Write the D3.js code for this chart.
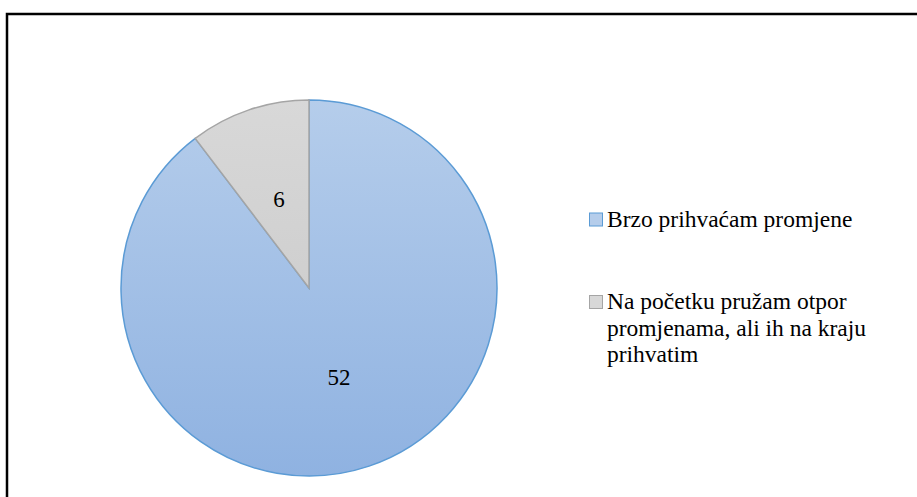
<!DOCTYPE html>
<html>
<head>
<meta charset="utf-8">
<script src="https://cdn.jsdelivr.net/npm/d3@7"></script>
<style>
  body { margin: 0; background: #fff; }
</style>
</head>
<body>
<svg id="chart" width="917" height="497"></svg>
<script>
const categories = ['Brzo prihvaćam promjene', 'Na početku pružam otpor promjenama, ali ih na kraju prihvatim'];
const values = [52, 6];
const legendLines = [['Brzo prihvaćam promjene'], ['Na početku pružam otpor', 'promjenama, ali ih na kraju', 'prihvatim']];

const fills = [['#b5cdeb', '#8fb2e1'], ['#d8d8d8', '#c6c6c6']];
const strokes = ['#5b9bd5', '#a5a5a5'];
const font = 'Liberation Serif, DejaVu Serif, serif';

const svg = d3.select('#chart');

// outer frame (right and bottom edges fall outside the window)
svg.append('rect')
  .attr('x', 7).attr('y', 14)
  .attr('width', 930).attr('height', 500)
  .attr('fill', 'none').attr('stroke', '#000').attr('stroke-width', 2.5);

const defs = svg.append('defs');
const cx = 309, cy = 288, r = 188;

fills.forEach((f, i) => {
  const g = defs.append('linearGradient')
    .attr('id', 'grad' + i)
    .attr('gradientUnits', 'userSpaceOnUse')
    .attr('x1', 0).attr('y1', -r).attr('x2', 0).attr('y2', r);
  g.append('stop').attr('offset', '0%').attr('stop-color', f[0]);
  g.append('stop').attr('offset', '100%').attr('stop-color', f[1]);
});

const pie = d3.pie().sort(null).value(d => d);
const arcs = pie(values);
const arc = d3.arc().innerRadius(0).outerRadius(r);

const g = svg.append('g').attr('transform', `translate(${cx},${cy})`);

g.selectAll('path')
  .data(arcs)
  .join('path')
  .attr('d', arc)
  .attr('fill', (d, i) => `url(#grad${i})`)
  .attr('stroke', (d, i) => strokes[i])
  .attr('stroke-width', 1.5);

const labelArc = d3.arc().innerRadius(r * 0.5).outerRadius(r * 0.5);
g.selectAll('text.val')
  .data(arcs)
  .join('text')
  .attr('class', 'val')
  .attr('transform', d => {
    const c = labelArc.centroid(d);
    return `translate(${c[0]},${c[1]})`;
  })
  .attr('text-anchor', 'middle')
  .attr('dy', '0.35em')
  .attr('font-family', font)
  .attr('font-size', 23)
  .attr('fill', '#000')
  .text(d => d.data);

// legend
const legendY = [226.5, 309];
const legend = svg.append('g');
categories.forEach((c, i) => {
  legend.append('rect')
    .attr('x', 589.5).attr('y', legendY[i] - 13.5)
    .attr('width', 13).attr('height', 13)
    .attr('fill', fills[i][0])
    .attr('stroke', strokes[i]).attr('stroke-width', 1);
  const t = legend.append('text')
    .attr('x', 607).attr('y', legendY[i])
    .attr('font-family', font)
    .attr('font-size', 23.5).attr('fill', '#000');
  legendLines[i].forEach((line, j) => {
    t.append('tspan').attr('x', 607).attr('dy', j === 0 ? 0 : 26.5).text(line);
  });
});
</script>
</body>
</html>
